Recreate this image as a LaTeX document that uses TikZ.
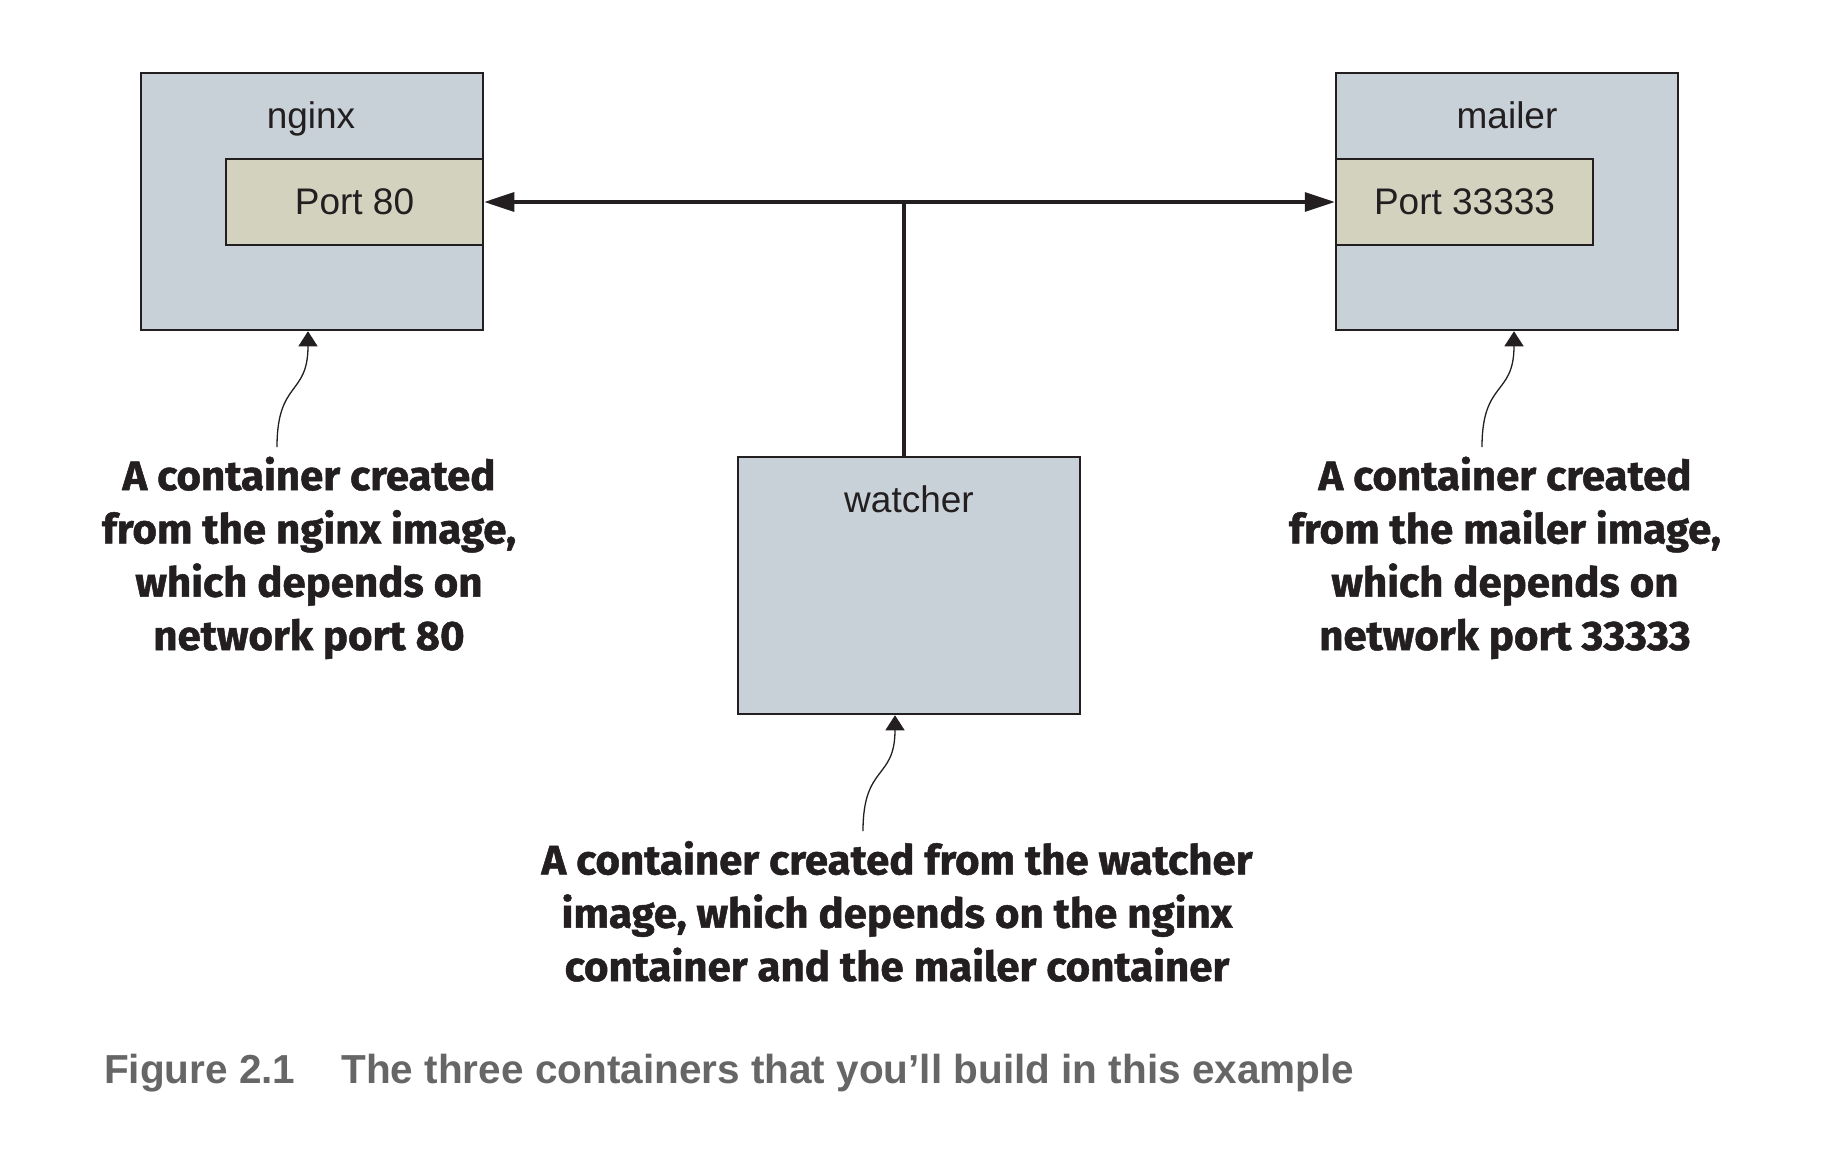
\documentclass[tikz,border=0pt]{standalone}
\usepackage{fontspec}
\setmainfont{Liberation Sans}
\newfontfamily\annofont{Fira Sans}[BoldFeatures={FakeBold=1.2,FakeStretch=1.02}]
\usetikzlibrary{arrows.meta,calc}
\definecolor{boxfill}{RGB}{200,209,215}
\definecolor{portfill}{RGB}{210,210,190}
\definecolor{ink}{RGB}{35,31,32}
\definecolor{capgrey}{RGB}{102,102,102}
\begin{document}
\begin{tikzpicture}[x=1pt,y=-1pt,
  container/.style={draw=ink,line width=2.5pt,fill=boxfill,minimum width=342pt,minimum height=257pt,inner sep=0pt},
  portbox/.style={draw=ink,line width=2.5pt,fill=portfill,minimum width=257pt,minimum height=86pt,inner sep=0pt,text=ink,font=\fontsize{37}{44}\selectfont},
  boxlabel/.style={anchor=base,inner sep=0pt,text=ink,font=\fontsize{37}{44}\selectfont},
  anno/.style={align=center,anchor=base,inner sep=0pt,text=ink,font=\annofont\bfseries\fontsize{41.2}{53.3}\selectfont},
  conn/.style={draw=ink,line width=3.3pt},
  bigtip/.tip={Triangle[length=30pt,width=19pt]},
  annoarrow/.style={draw=ink,line width=1.3pt,-{Triangle[length=15pt,width=19pt]}},
]
\useasboundingbox (0,0) rectangle (1842,1164);
\fill[white] (0,0) rectangle (1842,1164);
% containers
\node[container] (nginx) at (312,201.5) {};
\node[container] (mailer) at (1507,201.5) {};
\node[container] (watcher) at (909,585.5) {};
\node[portbox] (p80) at (354.5,202) {Port 80};
\node[portbox] (p33) at (1464.5,202) {Port 33333};
\node[boxlabel] (nginxlbl) at (311,128) {nginx};
\node[boxlabel] (mailerlbl) at (1507,128) {mailer};
\node[boxlabel] (watcherlbl) at (909,512) {watcher};
% connectors
\coordinate (junc) at (904,201.7);
\draw[conn,bigtip-bigtip] (p80.east) -- (p33.west);
\draw[conn] (junc) -- (junc |- watcher.north);
% annotations (anchor = baseline of last line)
\node[anno] (nginxnote) at (309,650) {A container created\\from the nginx image,\\which depends on\\network port 80};
\node[anno] (mailernote) at (1505,650) {A container created\\from the mailer image,\\which depends on\\network port 33333};
\node[anno] (watchernote) at (897,981) {A container created from the watcher\\image, which depends on the nginx\\container and the mailer container};
\coordinate (n1) at (277,447);
\coordinate (m1) at (1482,447);
\coordinate (w1) at (863,831);
\draw[annoarrow] (n1) .. controls +(0,-67) and +(0,65) .. ([xshift=-4pt]nginx.south);
\draw[annoarrow] (m1) .. controls +(0,-67) and +(0,65) .. ([xshift=7pt]mailer.south);
\draw[annoarrow] (w1) .. controls +(0,-67) and +(0,65) .. ([xshift=-14pt]watcher.south);
% caption
\node[anchor=base west,inner sep=0pt,text=capgrey,font=\bfseries\fontsize{40.5}{48}\selectfont] (caption) at (104,1083.3) {Figure 2.1\hspace{46pt}The three containers that you’ll build in this example};
\end{tikzpicture}
\end{document}
